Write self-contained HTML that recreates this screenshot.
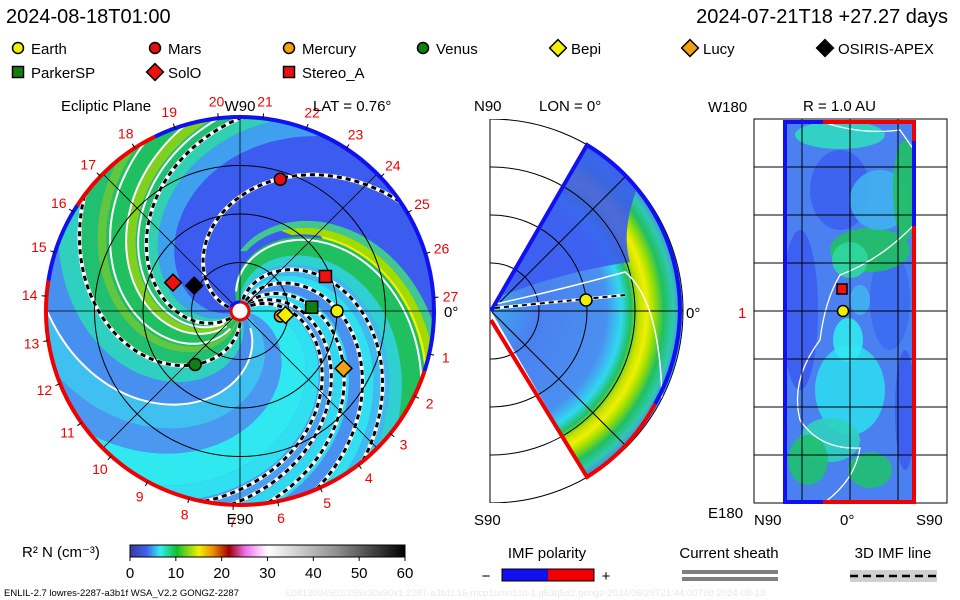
<!DOCTYPE html>
<html><head><meta charset="utf-8"><style>
html,body{margin:0;padding:0;background:#fff;width:960px;height:600px;overflow:hidden}
svg{display:block;font-family:"Liberation Sans",sans-serif}
</style></head><body>
<svg id="s" width="960" height="600" viewBox="0 0 960 600">
<defs>
<clipPath id="cc"><circle cx="240" cy="311" r="194"/></clipPath>
<clipPath id="wc"><path d="M491,311 L587,145 A192,192 0 0 1 587,477 Z"/></clipPath>
<clipPath id="mbox"><rect x="490" y="119" width="200" height="384"/></clipPath>
<clipPath id="rc"><rect x="785" y="122" width="129" height="380"/></clipPath>
<radialGradient id="wg" cx="491" cy="311" r="192" gradientUnits="userSpaceOnUse">
<stop offset="0" stop-color="#40a8f0"/><stop offset="0.25" stop-color="#4a80f0"/><stop offset="0.6" stop-color="#4a90f0"/>
<stop offset="0.68" stop-color="#30d8f0"/><stop offset="0.73" stop-color="#20c060"/><stop offset="0.77" stop-color="#c0e000"/>
<stop offset="0.81" stop-color="#f0f000"/><stop offset="0.85" stop-color="#a0e000"/><stop offset="0.9" stop-color="#20c060"/><stop offset="0.95" stop-color="#30c8b0"/><stop offset="1" stop-color="#4a80f0"/>
</radialGradient>
<linearGradient id="cb" x1="0" x2="1">
<stop offset="0" stop-color="#3838a0"/><stop offset="0.06" stop-color="#4060f0"/><stop offset="0.11" stop-color="#30f0f0"/>
<stop offset="0.17" stop-color="#10c030"/><stop offset="0.25" stop-color="#f0f000"/><stop offset="0.3" stop-color="#f09000"/>
<stop offset="0.36" stop-color="#a00000"/><stop offset="0.42" stop-color="#f070f0"/><stop offset="0.5" stop-color="#ffffff"/>
<stop offset="0.75" stop-color="#909090"/><stop offset="1" stop-color="#000000"/>
</linearGradient>
</defs>
<text x="6" y="23" font-size="20">2024-08-18T01:00</text>
<text x="948" y="23" font-size="20" text-anchor="end">2024-07-21T18 +27.27 days</text>
<g id="legend"></g>
<g id="main"></g>
<g id="mid"></g>
<g id="right"></g>
<g id="bottom"></g>
</svg>
<script>
const NS='http://www.w3.org/2000/svg';
function mk(t,a,p,txt){const e=document.createElementNS(NS,t);for(const k in a)e.setAttribute(k,a[k]);if(txt!=null)e.textContent=txt;p.appendChild(e);return e;}
const CX=240,CY=311,R=194,AU=97,TW=0.7;
// data
const bodyNames=['Earth','Mars','Mercury','Venus','Bepi','Lucy','OSIRIS-APEX','ParkerSP','SolO','Stereo_A'];
const bodyR=[1.0,1.42,0.42,0.72,0.47,1.22,0.54,0.74,0.75,0.95];
const bodyLon=[0,73,-7,-130,-5,-29,151,3,157,22];
const bodyShape=['circle','circle','circle','circle','diamond','diamond','diamond','square','diamond','square'];
const bodyColor=['#f0f000','#e01010','#f0a010','#108010','#f0f000','#f0a010','#000000','#108010','#f01010','#f01010'];
const bandStart=[-132,-126,-120,-110,-118,-100,-90,-78,-68,-58,-45,-32,-20,5,25,45,65,80,95,102,118,126,135,145];
const bandEnd=[-126,-120,-110,-100,-95,-90,-78,-68,-58,-45,-32,-20,5,25,45,65,80,95,102,118,126,135,145,160];
const bandRmin=[60,90,110,60,0,0,0,0,0,0,0,0,0,0,0,0,0,0,0,0,0,0,0,0];
const bandColor=['#40c890','#a0dc00','#f0f000','#60c830','#20c060','#30d0d0','#40b8f0','#30dff0','#4a90f0','#30d8f0','#4aa0f0','#30e0f0','#30e8f0','#4a98f0','#40c0f0','#4890f0','#30d0c0','#20c070','#60c840','#20c060','#80d020','#20c070','#30d0b0','#40a0f0'];
const sheathPhi=[-115,45,105,118,128];
const imfPhi=[-170,-85,-69,-54,-43,-35,81,135];
const cbTicks=[0,10,20,30,40,50,60];

const main=document.getElementById('main');
function sp(phi0,r){const a=(phi0+TW*r)*Math.PI/180;return [CX+r*Math.cos(a),CY+r*Math.sin(a)];}
function spPath(phi0,r0,r1){let d='';for(let r=r0;r<=r1;r+=3){const p=sp(phi0,r);d+=(d?'L':'M')+p[0].toFixed(1)+','+p[1].toFixed(1);}return d;}
const g=mk('g',{'clip-path':'url(#cc)'},main);
const bg=mk('circle',{cx:CX,cy:CY,r:R,fill:'#3c5cf0'},g);


for(let i=0;i<bandStart.length;i++){
  let d='';for(let r=bandRmin[i];r<=212;r+=4){const p=sp(bandStart[i],r);d+=(d?'L':'M')+p[0].toFixed(1)+','+p[1].toFixed(1);}
  for(let r=212;r>=bandRmin[i];r-=4){const p=sp(bandEnd[i],r);d+='L'+p[0].toFixed(1)+','+p[1].toFixed(1);}
  const e=mk('path',{d:d+'Z',fill:bandColor[i]},g);
  
  
}
for(const f of sheathPhi){const e=mk('path',{d:spPath(f,20,212),fill:'none',stroke:'#fff','stroke-width':2},g);
  
  }
for(const f of imfPhi){mk('path',{d:spPath(f,12,212),fill:'none',stroke:'#fff','stroke-width':4},g);
  const e=mk('path',{d:spPath(f,12,212),fill:'none',stroke:'#000','stroke-width':3,'stroke-dasharray':'5,4'},g);
  
  }
for(const rr of [48.5,97,145.5])mk('circle',{cx:CX,cy:CY,r:rr,fill:'none',stroke:'#000','stroke-width':1},main);
for(const a of [0,45,90,135]){const c=Math.cos(a*Math.PI/180)*R,s=Math.sin(a*Math.PI/180)*R;mk('line',{x1:CX-c,y1:CY-s,x2:CX+c,y2:CY+s,stroke:'#000','stroke-width':0.8},main);}
function arc(a0,a1,col){const p0=[CX+R*Math.cos(a0*Math.PI/180),CY+R*Math.sin(a0*Math.PI/180)],p1=[CX+R*Math.cos(a1*Math.PI/180),CY+R*Math.sin(a1*Math.PI/180)];
  const e=mk('path',{d:`M${p0[0]},${p0[1]}A${R},${R} 0 ${(a1-a0)>180?1:0} 1 ${p1[0]},${p1[1]}`,fill:'none',stroke:col,'stroke-width':4},main);
  
  }
arc(18,189,'#f00000');arc(189,213,'#1010f0');arc(213,244,'#f00000');arc(244,378,'#1010f0');
for(let k=1;k<=27;k++){const a=(-(27-k)*13.2-4)*Math.PI/180;const x=CX+211*Math.cos(a),y=CY+211*Math.sin(a);
  mk('line',{x1:CX+R*Math.cos(a),y1:CY+R*Math.sin(a),x2:CX+(R+5)*Math.cos(a),y2:CY+(R+5)*Math.sin(a),stroke:'#000'},main);
  const t=mk('text',{x:x,y:y+5,'font-size':14,fill:'#f00000','text-anchor':'middle'},main,String(k));
  
  }
mk('circle',{cx:CX,cy:CY,r:9,fill:'#fff',stroke:'#f00000','stroke-width':3},main);
mk('path',{d:`M${CX-9},${CY-4}A9,9 0 0 1 ${CX},${CY-9}`,fill:'none',stroke:'#1010f0','stroke-width':3},main);
function marker(parent,shape,x,y,col,sz){let e;
  if(shape==='circle')e=mk('circle',{cx:x,cy:y,r:sz,fill:col,stroke:'#000','stroke-width':1.5},parent);
  else if(shape==='square')e=mk('rect',{x:x-sz,y:y-sz,width:2*sz,height:2*sz,fill:col,stroke:'#000','stroke-width':1.5},parent);
  else e=mk('path',{d:`M${x},${y-sz*1.4}L${x+sz*1.4},${y}L${x},${y+sz*1.4}L${x-sz*1.4},${y}Z`,fill:col,stroke:'#000','stroke-width':1.5},parent);
  return e;}
for(let i=0;i<bodyNames.length;i++){const a=-bodyLon[i]*Math.PI/180;
  const e=marker(main,bodyShape[i],CX+bodyR[i]*AU*Math.cos(a),CY+bodyR[i]*AU*Math.sin(a),bodyColor[i],6);
  
  }
mk('text',{x:61,y:111,'font-size':15},main,'Ecliptic Plane');
mk('text',{x:240,y:111,'font-size':15,'text-anchor':'middle'},main,'W90');
mk('text',{x:313,y:111,'font-size':15},main,'LAT = 0.76°');
mk('text',{x:240,y:524,'font-size':15,'text-anchor':'middle'},main,'E90');
mk('text',{x:444,y:317,'font-size':15},main,'0°');
const leg=document.getElementById('legend');
const legX=[18,155,289,423,558,690,825,18,155,289],legY=[48,48,48,48,48,48,48,72,72,72];
for(let i=0;i<bodyNames.length;i++){const e=marker(leg,bodyShape[i],legX[i],legY[i],bodyColor[i],bodyShape[i]==='diamond'?6:5.5);
  
  
  const t=mk('text',{x:legX[i]+13,y:legY[i]+6,'font-size':15},leg,bodyNames[i]);
  
  }
const mid=document.getElementById('mid');
mk('line',{x1:490,y1:119,x2:490,y2:503,stroke:'#000'},mid);
const mg=mk('g',{'clip-path':'url(#mbox)'},mid);
for(const rr of [48,96,144,192])mk('circle',{cx:491,cy:311,r:rr,fill:'none',stroke:'#000','stroke-width':1},mg);
mk('path',{d:'M491,311 L587,145 A192,192 0 0 1 587,477 Z',fill:'url(#wg)'},mid);
const wg2=mk('g',{'clip-path':'url(#wc)'},mid);
mk('path',{d:'M491,311 L587,140 L640,180 Q620,230 630,262 Q560,272 491,300Z',fill:'#3c5cf0',opacity:0.9},wg2);
for(const rr of [48,96,144])mk('circle',{cx:491,cy:311,r:rr,fill:'none',stroke:'#000','stroke-width':1},wg2);
mk('line',{x1:491,y1:311,x2:683,y2:311,stroke:'#000'},wg2);
mk('line',{x1:491,y1:311,x2:650,y2:152,stroke:'#000'},wg2);
mk('line',{x1:491,y1:311,x2:650,y2:470,stroke:'#000'},wg2);
mk('path',{d:'M491,305 Q560,290 625,272 Q660,300 662,400 L656,420',fill:'none',stroke:'#fff','stroke-width':1.5},wg2);
mk('path',{d:'M491,311 L587,145 A192,192 0 0 1 655,404',fill:'none',stroke:'#1010f0','stroke-width':4},mid);
mk('path',{d:'M655,404 A192,192 0 0 1 587,477 L491,320',fill:'none',stroke:'#f00000','stroke-width':4},mid);
mk('line',{x1:495,y1:308,x2:625,y2:295,stroke:'#fff','stroke-width':3},mid);
mk('line',{x1:495,y1:308,x2:625,y2:295,stroke:'#000','stroke-width':2,'stroke-dasharray':'5,4'},mid);
mk('circle',{cx:586,cy:300,r:6,fill:'#f0f000',stroke:'#000','stroke-width':1.5},mid);
mk('text',{x:474,y:111,'font-size':15},mid,'N90');
mk('text',{x:539,y:111,'font-size':15},mid,'LON = 0°');
mk('text',{x:474,y:525,'font-size':15},mid,'S90');
mk('text',{x:686,y:318,'font-size':15},mid,'0°');
const rp=document.getElementById('right');
mk('rect',{x:754,y:119,width:193,height:384,fill:'#fff',stroke:'#000'},rp);
const rg=mk('g',{'clip-path':'url(#rc)'},rp);
mk('rect',{x:785,y:122,width:129,height:380,fill:'#4a80f0'},rg);
const blobs=[[800,310,18,80,'#3c5cf0'],[890,300,20,50,'#3c6af0'],[840,190,30,40,'#3c60f0'],[870,250,40,22,'#20c060'],[880,200,30,30,'#40b0f0'],[850,260,18,18,'#30d8a0'],[905,190,12,50,'#20c060'],[840,135,45,14,'#30d8c0'],[850,390,35,45,'#30d8f0'],[830,440,30,22,'#30d0c0'],[808,460,20,25,'#20c070'],[870,470,22,18,'#20c070'],[905,410,10,60,'#3c5cf0'],[848,340,15,22,'#30e8f0'],[860,300,10,15,'#40b0f0']];
for(const b of blobs){const e=mk('ellipse',{cx:b[0],cy:b[1],rx:b[2],ry:b[3],fill:b[4],opacity:0.9},rg);
  
  }
mk('path',{d:'M823,122 Q860,135 900,130 L914,150 M914,225 Q880,260 840,275 Q825,300 820,340 Q790,380 800,420 Q820,450 860,448 Q855,480 825,502',fill:'none',stroke:'#fff','stroke-width':1.3},rg);
for(const x of [802,850,898])mk('line',{x1:x,y1:119,x2:x,y2:503,stroke:'#000'},rp);
for(const y of [167,215,263,311,359,407,455])mk('line',{x1:754,y1:y,x2:947,y2:y,stroke:'#000'},rp);
mk('path',{d:'M823,122 L785,122 L785,502 L823,502',fill:'none',stroke:'#1010f0','stroke-width':4},rp);
mk('path',{d:'M823,122 L914,122 L914,141 M914,226 L914,502 L823,502',fill:'none',stroke:'#f00000','stroke-width':4},rp);
mk('line',{x1:914,y1:141,x2:914,y2:226,stroke:'#1010f0','stroke-width':4},rp);
mk('rect',{x:837,y:284,width:10,height:10,fill:'#f01010',stroke:'#000','stroke-width':1.5},rp);
mk('circle',{cx:843,cy:311,r:5.5,fill:'#f0f000',stroke:'#000','stroke-width':1.5},rp);
mk('text',{x:708,y:112,'font-size':15},rp,'W180');
mk('text',{x:803,y:111,'font-size':15},rp,'R = 1.0 AU');
mk('text',{x:708,y:518,'font-size':15},rp,'E180');
mk('text',{x:754,y:525,'font-size':15},rp,'N90');
mk('text',{x:840,y:525,'font-size':15},rp,'0°');
mk('text',{x:916,y:525,'font-size':15},rp,'S90');
mk('text',{x:738,y:318,'font-size':15,fill:'#f00000'},rp,'1');
const bt=document.getElementById('bottom');
mk('text',{x:22,y:557,'font-size':15},bt,'R² N (cm⁻³)');
const cbr=mk('rect',{x:130,y:545,width:275,height:12,fill:'url(#cb)',stroke:'#000'},bt);


for(const v of cbTicks){const x=130+v/60*275;mk('line',{x1:x,y1:557,x2:x,y2:561,stroke:'#000'},bt);
  const t=mk('text',{x:x,y:578,'font-size':15,'text-anchor':'middle'},bt,String(v));
  
  }
mk('text',{x:547,y:558,'font-size':15,'text-anchor':'middle'},bt,'IMF polarity');
mk('text',{x:486,y:581,'font-size':15,'text-anchor':'middle'},bt,'−');
mk('rect',{x:502,y:569,width:46,height:12,fill:'#1010f0'},bt);
mk('rect',{x:548,y:569,width:46,height:12,fill:'#f00000'},bt);
mk('rect',{x:502,y:569,width:92,height:12,fill:'none',stroke:'#000'},bt);
mk('text',{x:606,y:581,'font-size':15,'text-anchor':'middle'},bt,'+');
mk('text',{x:729,y:558,'font-size':15,'text-anchor':'middle'},bt,'Current sheath');
mk('rect',{x:682,y:570,width:96,height:4,fill:'#808080'},bt);
mk('rect',{x:682,y:577,width:96,height:4,fill:'#808080'},bt);
mk('text',{x:893,y:558,'font-size':15,'text-anchor':'middle'},bt,'3D IMF line');
mk('rect',{x:850,y:570,width:87,height:12,fill:'#d0d0d0'},bt);
mk('line',{x1:850,y1:576,x2:937,y2:576,stroke:'#000','stroke-width':2.5,'stroke-dasharray':'8,5'},bt);
mk('text',{x:4,y:596,'font-size':9.5},bt,'ENLIL-2.7 lowres-2287-a3b1f WSA_V2.2 GONGZ-2287');
mk('text',{x:285,y:596,'font-size':9.5,fill:'#e8e8e8'},bt,'E0813094502/256x30x90x1.2287-a3b1f.16-mcp1umn1cd-1.g53q5d2.gongz-2024/06/29T21:44:00T00   2024-08-13');
</script>
</body></html>
